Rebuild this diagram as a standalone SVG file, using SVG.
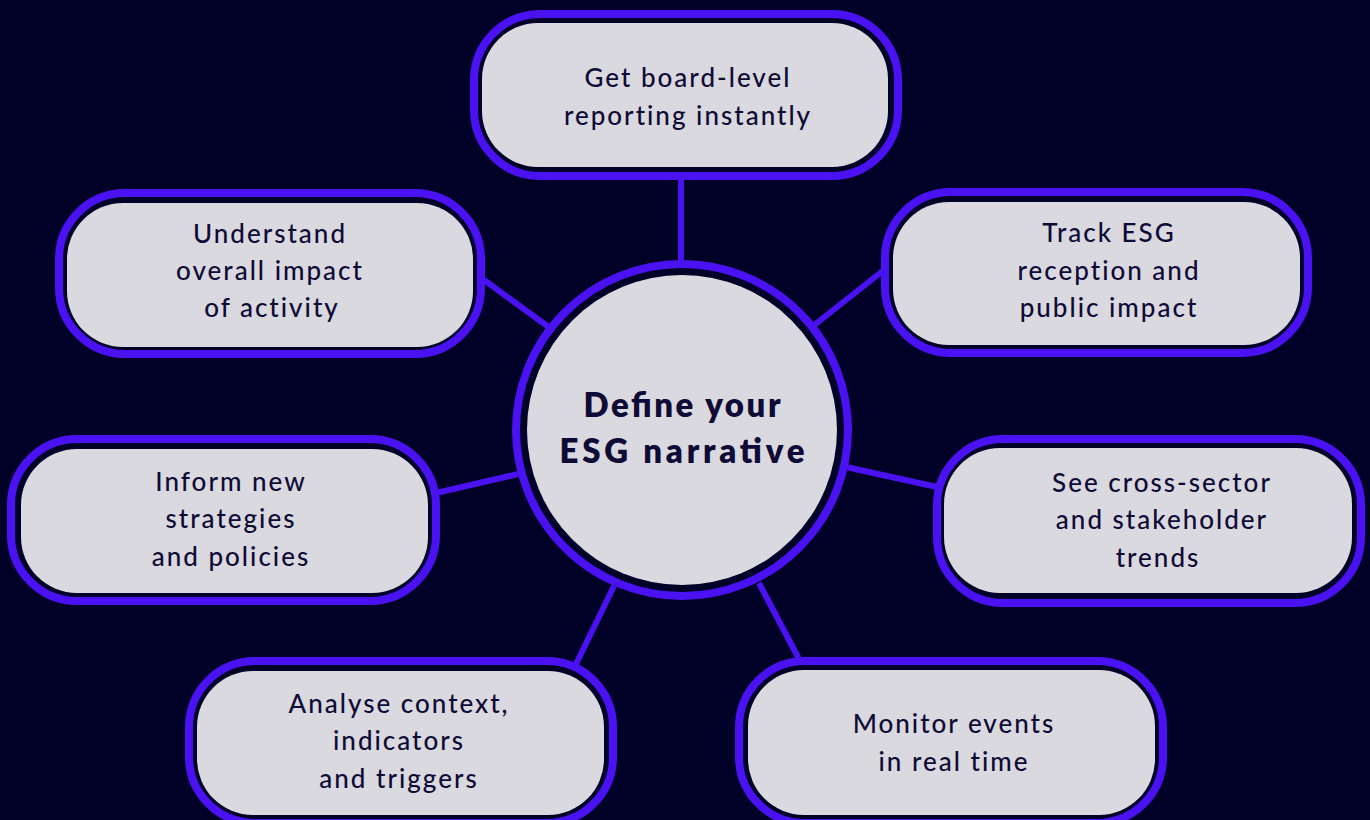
<svg xmlns="http://www.w3.org/2000/svg" width="1370" height="820" viewBox="0 0 1370 820">
<style>
.bg{fill:#020128}
.ring{fill:#020128;stroke:#4a12f2;stroke-width:8}
.card{fill:#dad9df}
.conn line{stroke:#4a12f2;stroke-width:6;stroke-linecap:butt}
.t{font-family:Lato,"Noto Sans",sans-serif;font-size:26px;fill:#0e0b36;text-anchor:middle;font-weight:500;letter-spacing:2px}
.c{font-family:Lato,"Noto Sans",sans-serif;font-size:33px;fill:#0e0b36;text-anchor:middle;font-weight:800}
</style>
<rect class="bg" x="0" y="0" width="1370" height="820"/>
<g id="connectors" class="conn">
<line x1="681" y1="176" x2="681" y2="264"/>
<line x1="484" y1="280" x2="550" y2="328"/>
<line x1="884" y1="270" x2="813" y2="326"/>
<line x1="436" y1="493" x2="518" y2="474"/>
<line x1="846" y1="467" x2="937" y2="487"/>
<line x1="614" y1="586" x2="576" y2="664"/>
<line x1="759" y1="583" x2="800" y2="661"/>
</g>
<g id="center">
<circle class="ring" cx="682" cy="430" r="166"/>
<circle class="card" cx="682" cy="430" r="155"/>
<text class="c" x="682" y="417" textLength="197" lengthAdjust="spacing">Define your</text>
<text class="c" x="682" y="463" textLength="245" lengthAdjust="spacing">ESG narrative</text>
</g>
<g id="n-top">
<rect class="ring" x="474" y="14" width="424" height="162" rx="66"/>
<rect class="card" x="482" y="23" width="406" height="144" rx="56"/>
<text class="t" x="688" y="87">Get board-level</text>
<text class="t" x="688" y="125">reporting instantly</text>
</g>
<g id="n-upper-left">
<rect class="ring" x="59" y="193" width="422" height="161" rx="66"/>
<rect class="card" x="67" y="203" width="406" height="144" rx="56"/>
<text class="t" x="270" y="243">Understand</text>
<text class="t" x="270" y="280">overall impact</text>
<text class="t" x="272" y="317">of activity</text>
</g>
<g id="n-upper-right">
<rect class="ring" x="885" y="192" width="423" height="161" rx="66"/>
<rect class="card" x="893" y="202" width="407" height="143" rx="56"/>
<text class="t" x="1109" y="242">Track ESG</text>
<text class="t" x="1109" y="280">reception and</text>
<text class="t" x="1109" y="317">public impact</text>
</g>
<g id="n-left">
<rect class="ring" x="11" y="439" width="425" height="162" rx="66"/>
<rect class="card" x="21" y="449" width="407" height="144" rx="56"/>
<text class="t" x="231" y="491">Inform new</text>
<text class="t" x="231" y="528">strategies</text>
<text class="t" x="231" y="566">and policies</text>
</g>
<g id="n-right">
<rect class="ring" x="937" y="439" width="424" height="164" rx="66"/>
<rect class="card" x="944" y="448" width="408" height="145" rx="56"/>
<text class="t" x="1162" y="492">See cross-sector</text>
<text class="t" x="1162" y="529">and stakeholder</text>
<text class="t" x="1158" y="567">trends</text>
</g>
<g id="n-bottom-left">
<rect class="ring" x="189" y="661" width="424" height="162" rx="66"/>
<rect class="card" x="197" y="671" width="407" height="144" rx="56"/>
<text class="t" x="399" y="713">Analyse context,</text>
<text class="t" x="399" y="750">indicators</text>
<text class="t" x="399" y="788">and triggers</text>
</g>
<g id="n-bottom-right">
<rect class="ring" x="739" y="661" width="424" height="162" rx="66"/>
<rect class="card" x="748" y="670" width="407" height="145" rx="56"/>
<text class="t" x="954" y="733">Monitor events</text>
<text class="t" x="954" y="771">in real time</text>
</g>
</svg>
